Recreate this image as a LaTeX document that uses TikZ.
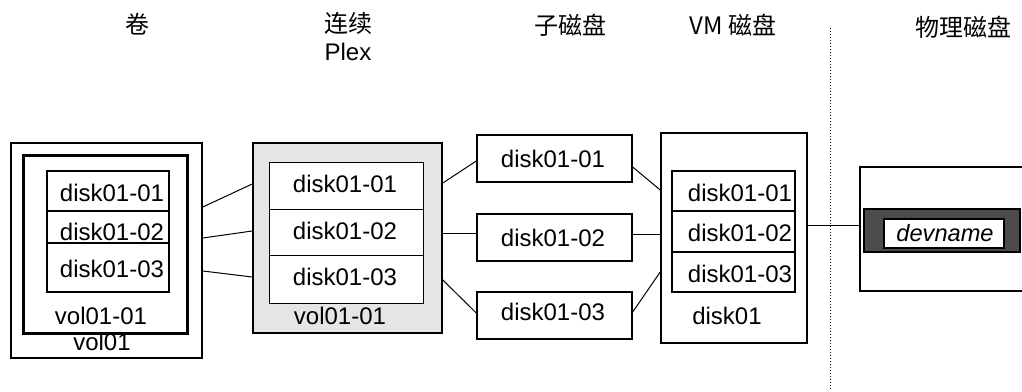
\documentclass[tikz,border=0pt]{standalone}
\usepackage{fontspec}
\setmainfont{Liberation Sans}
\newfontfamily\cjk{Noto Sans CJK SC}
\usetikzlibrary{fit}
\begin{document}
\begin{tikzpicture}[x=0.5pt,y=-0.5pt,
  font=\fontsize{12}{14}\selectfont,
  box/.style={draw, line width=0.8pt, inner sep=0pt, fit={#1}},
  heavybox/.style={draw, line width=1.5pt, inner sep=0pt, fit={#1}},
  row/.style={draw, line width=0.7pt, inner sep=0pt, fit={#1}},
  link/.style={line width=0.5pt},
  lbl/.style={inner sep=0pt, anchor=center},
  hdr/.style={inner sep=0pt, anchor=center, font=\cjk\fontsize{12}{14}\selectfont}]
\useasboundingbox (0,0) rectangle (1022,391);

% headers
\node[hdr] (h1) at (137,24) {卷};
\node[hdr] (h2) at (348,23) {连续};
\node[lbl] (h2b) at (348,52) {Plex};
\node[hdr] (h3) at (570,25) {子磁盘};
\node[hdr] (h4) at (733,25) {VM 磁盘};
\node[hdr] (h5) at (963,27) {物理磁盘};

% separator
\coordinate (sepT) at (830,28);
\coordinate (sepB) at (830,391);
\draw[line width=0.5pt, densely dotted] (sepT) -- (sepB);

% volume
\node[box={(11,143)(202,358)}] (vol) {};
\node[heavybox={(23,155)(187,333)}] (plexin) {};
\node[row={(47,171)(169,211)}] (vr1) {};
\node[row={(47,211)(169,243)}] (vr2) {};
\node[row={(47,243)(169,292)}] (vr3) {};
\node[lbl] at (112,193) {disk01-01};
\node[lbl] at (112,232) {disk01-02};
\node[lbl] at (112,269) {disk01-03};
\node[lbl] (vplexlbl) at (101,316) {vol01-01};
\node[lbl] (vollbl) at (102,342) {vol01};

% concatenated plex
\node[box={(253,143)(442,333)}, fill=black!10] (plex) {};
\node[row={(269,162)(423,209)}, fill=white, line width=0.5pt] (pr1) {};
\node[row={(269,209)(423,255)}, fill=white, line width=0.5pt] (pr2) {};
\node[row={(269,255)(423,303)}, fill=white, line width=0.5pt] (pr3) {};
\node[lbl] at (345,184) {disk01-01};
\node[lbl] at (345,231) {disk01-02};
\node[lbl] at (345,277) {disk01-03};
\node[lbl] (plexlbl) at (340,316) {vol01-01};

% subdisks
\node[row={(477,135)(632,182)}] (s1) {};
\node[row={(477,214)(632,261)}] (s2) {};
\node[row={(477,292)(632,339)}] (s3) {};
\node[lbl] at (553,159) {disk01-01};
\node[lbl] at (553,238) {disk01-02};
\node[lbl] at (553,312) {disk01-03};

% VM disk
\node[box={(661,133)(807,343)}] (vm) {};
\node[row={(672,171)(795,211)}, line width=0.9pt] (m1) {};
\node[row={(672,211)(795,252)}, line width=0.9pt] (m2) {};
\node[row={(672,252)(795,292)}, line width=0.9pt] (m3) {};
\node[lbl] at (740,193) {disk01-01};
\node[lbl] at (740,233) {disk01-02};
\node[lbl] at (740,274) {disk01-03};
\node[lbl] (vmlbl) at (727,316) {disk01};

% physical disk
\node[box={(860,167)(1030,291)}] (phys) {};
\node[draw, line width=0.8pt, fill=black!70, inner sep=0pt, fit={(864,209)(1020,252)}] (bar) {};
\node[draw, line width=0.8pt, fill=white, inner sep=0pt, fit={(884,219)(1004,248)}] (dev) {};
\node[lbl, font=\fontsize{11.8}{14}\selectfont\itshape] at (945,233) {devname};

% connectors
\draw[link] (vol.east |- 0,207) -- (plex.west |- 0,184);
\draw[link] (vol.east |- 0,238) -- (plex.west |- 0,231);
\draw[link] (vol.east |- 0,271) -- (plex.west |- 0,277);

\draw[link] (plex.east |- 0,183) -- (s1.west |- 0,161);
\draw[link] (plex.east |- 0,233) -- (s2.west |- 0,233);
\draw[link] (plex.east |- 0,280) -- (s3.west |- 0,313);

\draw[link] (s1.east |- 0,167) -- (vm.west |- 0,190);
\draw[link] (s2.east |- 0,234) -- (vm.west |- 0,234);
\draw[link] (s3.east |- 0,312) -- (vm.west |- 0,272);

\draw[link] (vm.east |- 0,225) -- (phys.west |- 0,225);
\end{tikzpicture}
\end{document}
